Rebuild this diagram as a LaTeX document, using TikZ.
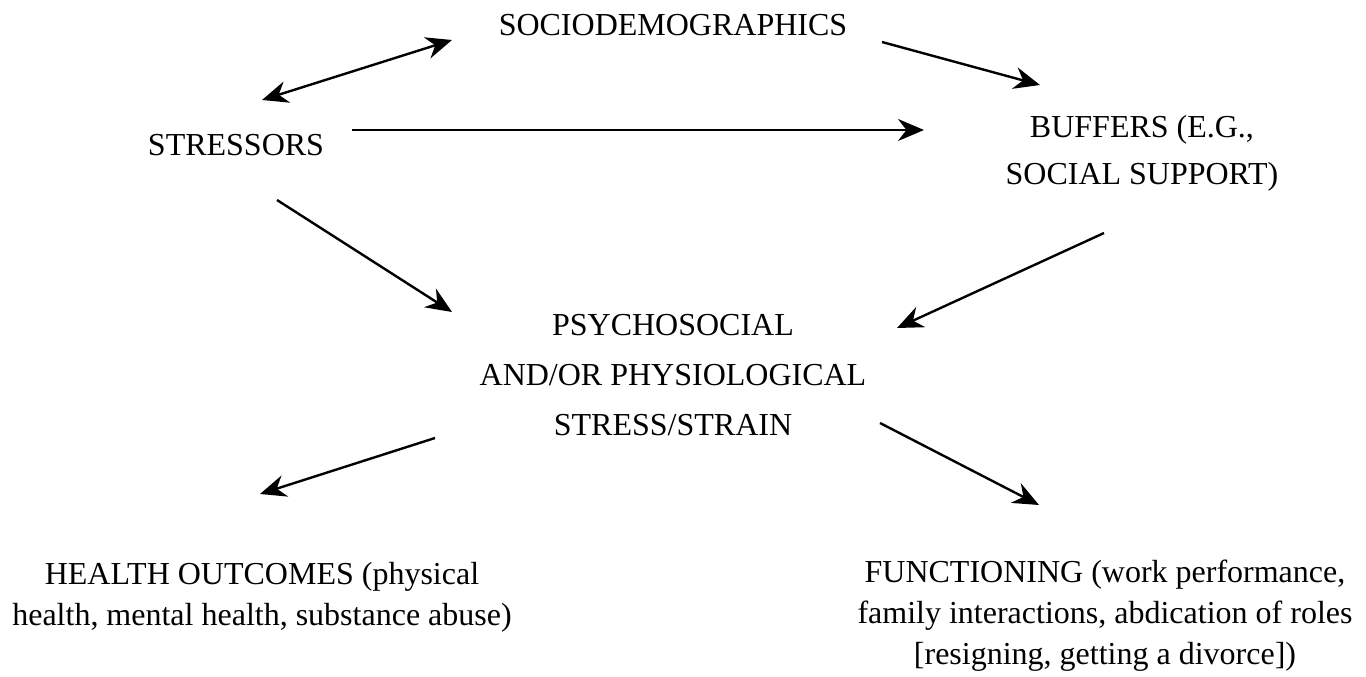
\documentclass[tikz,border=0pt]{standalone}
\usepackage{fontspec}
\setmainfont{Liberation Serif}
\usetikzlibrary{arrows.meta}
\begin{document}
\begin{tikzpicture}[x=1pt,y=-1pt,
  lbl/.style={align=center,inner sep=0pt,font=\fontsize{32}{46}\selectfont},
  lbltight/.style={align=center,inner sep=0pt,font=\fontsize{32}{41}\selectfont},
  arr/.style={line width=2.4pt,-{Stealth[length=26pt,width=22pt]}},
  darr/.style={line width=2.4pt,{Stealth[length=26pt,width=22pt]}-{Stealth[length=26pt,width=22pt]}}]
\useasboundingbox (0,0) rectangle (1366,677);
\node[lbl] (socio) at (673,25) {SOCIODEMOGRAPHICS};
\node[lbl] (stress) at (236,145) {STRESSORS};
\node[lbl,font=\fontsize{32}{47}\selectfont] (buff) at (1142,153) {BUFFERS (E.G.,\\SOCIAL SUPPORT)};
\node[lbl,font=\fontsize{32}{50}\selectfont] (psy) at (673,375) {PSYCHOSOCIAL\\AND/OR PHYSIOLOGICAL\\STRESS/STRAIN};
\node[lbltight] (health) at (262,597) {HEALTH OUTCOMES (physical\\health, mental health, substance abuse)};
\node[lbltight] (func) at (1105,616) {FUNCTIONING (work performance,\\family interactions, abdication of roles\\{[}resigning, getting a divorce{]})};
% connector end points
\coordinate (sdA) at (262,100); \coordinate (sdB) at (452,40);
\coordinate (sbA) at (882,42);  \coordinate (sbB) at (1040,85);
\coordinate (stbA) at (352,130); \coordinate (stbB) at (924,130);
\coordinate (stpA) at (277,200); \coordinate (stpB) at (452,312);
\coordinate (bpA) at (1104,233); \coordinate (bpB) at (897,328);
\coordinate (phA) at (435,438); \coordinate (phB) at (260,494);
\coordinate (pfA) at (880,423); \coordinate (pfB) at (1039,505);
\draw[darr] (sdA) -- (sdB);
\draw[arr] (sbA) -- (sbB);
\draw[arr] (stbA) -- (stbB);
\draw[arr] (stpA) -- (stpB);
\draw[arr] (bpA) -- (bpB);
\draw[arr] (phA) -- (phB);
\draw[arr] (pfA) -- (pfB);
\end{tikzpicture}
\end{document}
